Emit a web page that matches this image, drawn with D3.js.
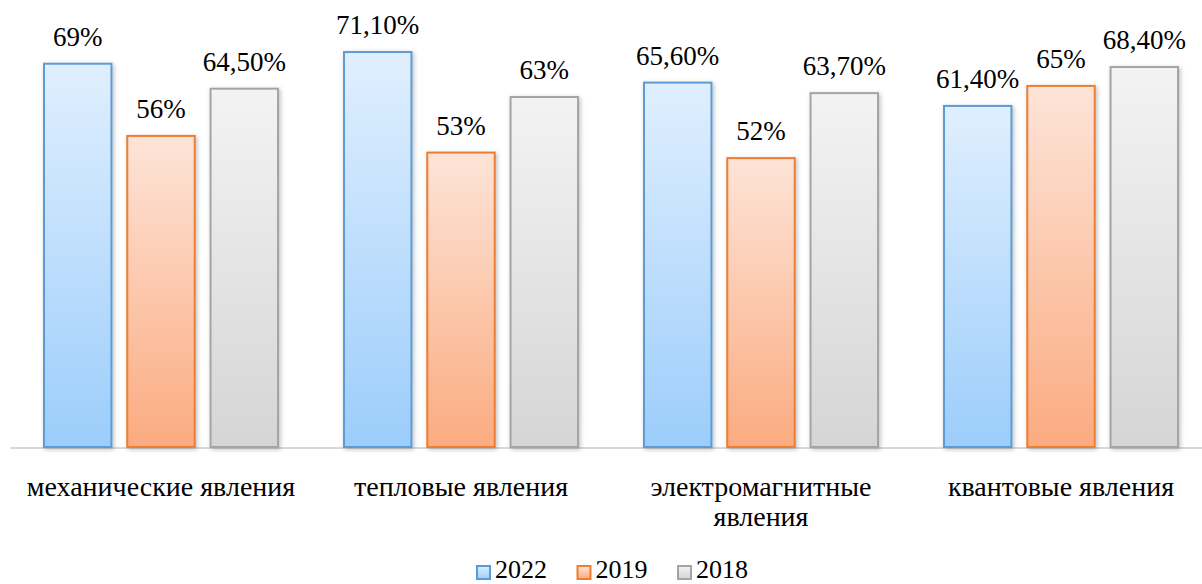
<!DOCTYPE html>
<html>
<head>
<meta charset="utf-8">
<script src="https://cdn.jsdelivr.net/npm/d3@7"></script>
<style>
	body { margin: 0; background: #ffffff; }
	svg { display: block; }
	text { font-family: "Liberation Serif", Tinos, "Times New Roman", "Noto Serif", "DejaVu Serif", serif; fill: #000000; }
</style>
</head>
<body>
<div class="chart"></div>
<script>
const categories = ["механические явления", "тепловые явления", "электромагнитные явления", "квантовые явления"];
const seriesNames = ["2022", "2019", "2018"];
const values2022 = [69, 71.1, 65.6, 61.4];
const values2019 = [56, 53, 52, 65];
const values2018 = [64.5, 63, 63.7, 68.4];
const labels2022 = ["69%", "71,10%", "65,60%", "61,40%"];
const labels2019 = ["56%", "53%", "52%", "65%"];
const labels2018 = ["64,50%", "63%", "63,70%", "68,40%"];

const width = 1202;
const height = 584;
const baseY = 447;

const seriesStyle = [
	{ top: "#e0effe", bottom: "#9ccdfb", stroke: "#5b9bd5" },
	{ top: "#fde4d8", bottom: "#fbab80", stroke: "#ed7d31" },
	{ top: "#f3f3f3", bottom: "#d5d5d5", stroke: "#a5a5a5" }
];

const seriesValues = [values2022, values2019, values2018];
const seriesLabels = [labels2022, labels2019, labels2018];

let svg = d3.select("div.chart")
	.append("svg")
	.attr("width", width)
	.attr("height", height);

let defs = svg.append("defs");
seriesStyle.forEach((s, i) => {
	let lg = defs.append("linearGradient")
		.attr("id", "grad" + i)
		.attr("x1", 0).attr("y1", 0)
		.attr("x2", 0).attr("y2", 1);
	lg.append("stop").attr("offset", "0%").style("stop-color", s.top);
	lg.append("stop").attr("offset", "100%").style("stop-color", s.bottom);
});

let shadow = defs.append("filter")
	.attr("id", "shadow")
	.attr("x", "-20%").attr("y", "-10%")
	.attr("width", "140%").attr("height", "120%");
shadow.append("feDropShadow")
	.attr("dx", 1.5).attr("dy", 1.5)
	.attr("stdDeviation", 2)
	.attr("flood-color", "#000000")
	.attr("flood-opacity", 0.25);

const x0 = d3.scaleBand()
	.domain(categories)
	.range([11, 1211])
	.paddingInner(0)
	.paddingOuter(0);

const x1 = d3.scaleBand()
	.domain(seriesNames)
	.range([33, 267])
	.paddingInner(0.19)
	.paddingOuter(0);

const y = d3.scaleLinear()
	.domain([0, 80])
	.range([baseY, baseY - 80 * 5.555]);

// axis line
svg.append("line")
	.attr("x1", 10).attr("x2", width)
	.attr("y1", baseY + 1).attr("y2", baseY + 1)
	.style("stroke", "#d9d9d9")
	.style("stroke-width", 2);

let groups = svg.selectAll("g.group")
	.data(categories)
	.enter()
	.append("g")
	.attr("class", "group")
	.attr("transform", d => "translate(" + x0(d) + ",0)");

groups.each(function(cat, ci) {
	let g = d3.select(this);
	seriesNames.forEach((name, si) => {
		let v = seriesValues[si][ci];
		g.append("rect")
			.attr("x", x1(name))
			.attr("y", y(v))
			.attr("width", x1.bandwidth())
			.attr("height", baseY - y(v))
			.attr("fill", "url(#grad" + si + ")")
			.attr("stroke", seriesStyle[si].stroke)
			.attr("stroke-width", 2)
			.attr("filter", "url(#shadow)");
		g.append("text")
			.attr("x", x1(name) + x1.bandwidth() / 2)
			.attr("y", y(v) - 18)
			.attr("text-anchor", "middle")
			.style("font-size", "27px")
			.text(seriesLabels[si][ci]);
	});
});

// category labels, wrapped when too long
const maxLabelWidth = 295;
groups.append("text")
	.attr("class", "cat")
	.attr("x", x0.bandwidth() / 2)
	.attr("y", 496)
	.attr("text-anchor", "middle")
	.style("font-size", "28px")
	.each(function(d) {
		let t = d3.select(this);
		t.text(d);
		if (this.getComputedTextLength() > maxLabelWidth) {
			let words = d.split(" ");
			t.text(null);
			words.forEach((w, i) => {
				t.append("tspan")
					.attr("x", x0.bandwidth() / 2)
					.attr("dy", i === 0 ? 0 : 30)
					.text(w);
			});
		}
	});

// legend
let legend = svg.append("g").attr("class", "legend");
seriesNames.forEach((name, si) => {
	let lx = 476 + si * 100.5;
	legend.append("rect")
		.attr("x", lx + 1)
		.attr("y", 566)
		.attr("width", 13)
		.attr("height", 13)
		.attr("fill", "url(#grad" + si + ")")
		.attr("stroke", seriesStyle[si].stroke)
		.attr("stroke-width", 2);
	legend.append("text")
		.attr("x", lx + 19)
		.attr("y", 578)
		.style("font-size", "26px")
		.text(name);
});
</script>
</body>
</html>
